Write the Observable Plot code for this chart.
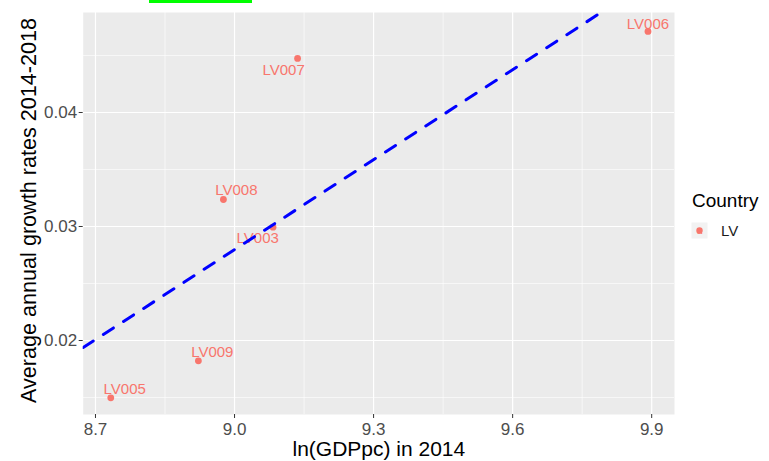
<!DOCTYPE html>
<html>
<head>
<meta charset="utf-8">
<script src="https://cdn.jsdelivr.net/npm/d3@7"></script>
<script src="https://cdn.jsdelivr.net/npm/@observablehq/plot@0.6"></script>
<style>
  html, body { margin: 0; padding: 0; background: #fff; }
  #wrap { position: relative; width: 769px; height: 461px; overflow: hidden; }
  #greenbar { position: absolute; left: 149px; top: 0; width: 103px; height: 3px; background: #00FF00; }
  g[aria-label$="tick label"] { fill: #4D4D4D; }
</style>
</head>
<body>
<div id="wrap"><div id="greenbar"></div></div>
<script>
// ---- data ----
const countries = ["LV003", "LV005", "LV006", "LV007", "LV008", "LV009"];
const lnGDPpc   = [9.083, 8.733, 9.892, 9.136, 8.976, 8.922];
const growth    = [0.02994, 0.01497, 0.04711, 0.04474, 0.03237, 0.01822];
// label anchor positions (repelled labels), in data units
const labelX    = [9.050, 8.763, 9.892, 9.106, 9.004, 8.952];
const labelY    = [0.02895, 0.01573, 0.04778, 0.04368, 0.03316, 0.01897];
const group     = ["LV"];
const xTicks    = [8.7, 9.0, 9.3, 9.6, 9.9];
const yTicks    = [0.02, 0.03, 0.04];
const xTitle    = "ln(GDPpc) in 2014";
const yTitle    = "Average annual growth rates 2014-2018";
const legendTitle = "Country";

const pts = countries.map((c, i) => ({c, x: lnGDPpc[i], y: growth[i], lx: labelX[i], ly: labelY[i]}));

const xDomain = [8.6735, 9.9492];
const yDomain = [0.01351, 0.04877];

// OLS fit, drawn across the full x range
const mx = d3.mean(lnGDPpc), my = d3.mean(growth);
const slope = d3.sum(lnGDPpc, (x, i) => (x - mx) * (growth[i] - my)) / d3.sum(lnGDPpc, x => (x - mx) ** 2);
const icpt = my - slope * mx;
const fitLine = xDomain.map(x => ({x, y: icpt + slope * x}));

const mid = a => a.slice(1).map((v, i) => (v + a[i]) / 2);
const xMinor = [...mid(xTicks), xTicks[xTicks.length - 1] + 0.15].filter(v => v >= xDomain[0] && v <= xDomain[1]);
const yMinor = [yTicks[0] - 0.005, ...mid(yTicks), yTicks[yTicks.length - 1] + 0.005].filter(v => v >= yDomain[0] && v <= yDomain[1]);

const red = "#F8766D";

const chart = Plot.plot({
  width: 769,
  height: 461,
  marginLeft: 82.7,
  marginRight: 95,
  marginTop: 12,
  marginBottom: 47,
  style: {fontFamily: "'Liberation Sans', Arial, sans-serif", background: "transparent", overflow: "visible"},
  x: {domain: xDomain, axis: null},
  y: {domain: yDomain, axis: null},
  marks: [
    Plot.frame({fill: "#EBEBEB", stroke: "none"}),
    Plot.ruleX(xMinor, {stroke: "#fff", strokeWidth: 0.6}),
    Plot.ruleY(yMinor, {stroke: "#fff", strokeWidth: 0.6}),
    Plot.ruleX(xTicks, {stroke: "#fff", strokeWidth: 1.2}),
    Plot.ruleY(yTicks, {stroke: "#fff", strokeWidth: 1.2}),
    Plot.dot(pts, {x: "x", y: "y", r: 3.4, fill: red, stroke: "none"}),
    Plot.text(pts, {x: "lx", y: "ly", text: "c", fill: red, fontSize: 15}),
    Plot.line(fitLine, {x: "x", y: "y", stroke: "#0000FF", strokeWidth: 3, strokeDasharray: "12,12", clip: true}),
    Plot.axisX({ticks: xTicks, tickFormat: d => d.toFixed(1), tickSize: 4, tickPadding: 4, fontSize: 17, stroke: "#333", label: null}),
    Plot.axisY({ticks: yTicks, tickFormat: d => d.toFixed(2), tickSize: 4, tickPadding: 2, fontSize: 17, stroke: "#333", label: null}),
    Plot.text([xTitle], {frameAnchor: "bottom", textAnchor: "middle", lineAnchor: "middle", dy: 34.6, fontSize: 21, fill: "#000"}),
    Plot.text([yTitle], {frameAnchor: "left", textAnchor: "middle", lineAnchor: "middle", rotate: -90, dx: -54, dy: -3, fontSize: 21.6, fill: "#000"})
  ]
});

document.getElementById("wrap").appendChild(chart);

// legend
const svg = d3.select(chart);
const lg = svg.append("g").attr("font-family", "'Liberation Sans', Arial, sans-serif").attr("text-anchor", "start");
lg.append("text").attr("x", 692).attr("y", 207).attr("font-size", 19).attr("fill", "#000").text(legendTitle);
group.forEach((g, i) => {
  const y0 = 222.5 + i * 17;
  lg.append("rect").attr("x", 691.5).attr("y", y0).attr("width", 16).attr("height", 16).attr("fill", "#F2F2F2");
  lg.append("text").attr("x", 699.5).attr("y", y0 + 8).attr("dy", "0.35em").attr("text-anchor", "middle")
    .attr("font-size", 10).attr("fill", red).text("a");
  lg.append("circle").attr("cx", 699.5).attr("cy", y0 + 8).attr("r", 3.2).attr("fill", red);
  lg.append("text").attr("x", 721).attr("y", y0 + 8).attr("dy", "0.36em").attr("font-size", 15).attr("fill", "#1a1a1a").text(g);
});
</script>
</body>
</html>
